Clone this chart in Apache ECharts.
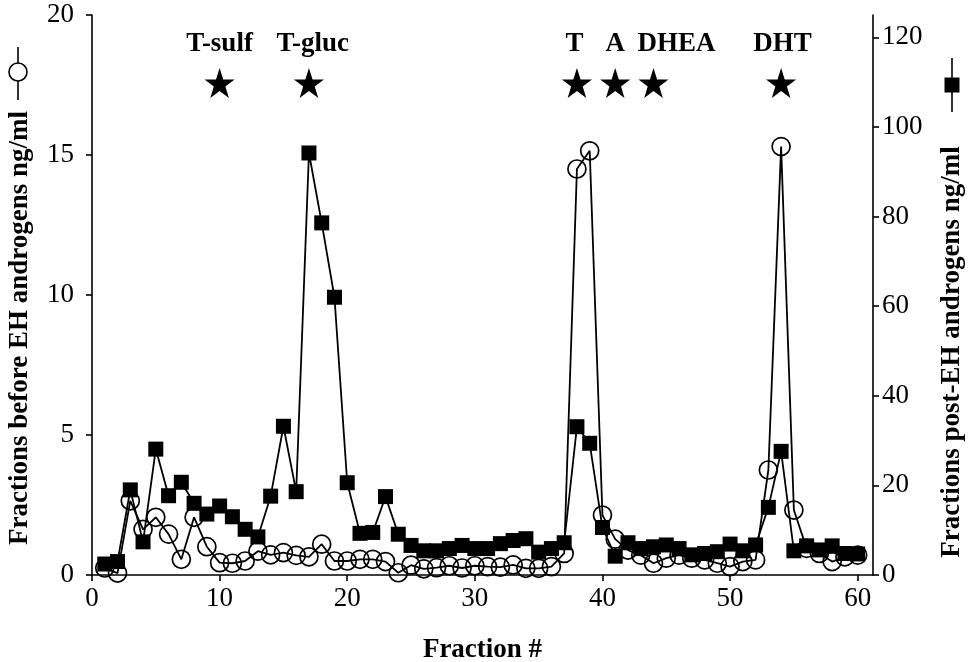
<!DOCTYPE html>
<html>
<head>
<meta charset="utf-8">
<script src="https://cdn.jsdelivr.net/npm/echarts@6/dist/echarts.min.js"></script>
<style>html,body{margin:0;padding:0;background:#fff}#c{width:969px;height:662px}</style>
</head>
<body>
<div id="c"></div>
<script>
const fractions = [1,2,3,4,5,6,7,8,9,10,11,12,13,14,15,16,17,18,19,20,21,22,23,24,25,26,27,28,29,30,31,32,33,34,35,36,37,38,39,40,41,42,43,44,45,46,47,48,49,50,51,52,53,54,55,56,57,58,59,60];
const beforeEH = [0.25,0.07,2.65,1.63,2.06,1.46,0.56,2.06,1.01,0.44,0.42,0.5,0.85,0.72,0.8,0.7,0.65,1.1,0.5,0.5,0.56,0.56,0.48,0.08,0.35,0.22,0.26,0.33,0.25,0.33,0.3,0.28,0.36,0.24,0.24,0.3,0.77,14.5,15.15,2.14,1.28,0.89,0.71,0.42,0.6,0.71,0.6,0.54,0.42,0.3,0.48,0.54,3.75,15.3,2.32,0.95,0.77,0.48,0.65,0.71];
const postEH = [2.45,3.0,19.0,7.4,28.1,17.7,20.7,16.0,13.6,15.4,13.0,10.2,8.5,17.6,33.2,18.6,94.2,78.6,62.0,20.6,9.3,9.5,17.5,9.1,6.6,5.4,5.4,5.9,6.6,5.9,5.9,7.0,7.7,8.1,5.1,5.9,7.2,33.1,29.4,10.6,4.2,7.2,5.9,6.3,6.7,5.9,4.5,4.8,5.2,6.9,5.4,6.7,15.1,27.6,5.4,6.5,5.6,6.5,4.8,4.7];
const xTicks = [0,10,20,30,40,50,60];
const leftTicks = [0,5,10,15,20];
const rightTicks = [0,20,40,60,80,100,120];
const markerNames = ['T-sulf','T-gluc','T','A','DHEA','DHT'];
const markerStarX = [10,17,38,41,44,54];
const markerLabelX = [10,17.3,37.8,41,45.8,54.1];
const starLevel = 17.57;
const labelLevel = 18.96;

const FONT = '"Liberation Serif", "Times New Roman", serif';
const STAR = 'path://M50,0 L61.8,35.1 L98.9,35.1 L68.9,56.9 L80.3,91.9 L50,70.2 L19.7,91.9 L31.1,56.9 L1.1,35.1 L38.2,35.1 Z';

const chart = echarts.init(document.getElementById('c'));
chart.setOption({
  backgroundColor: '#fff',
  animation: false,
  grid: {left: 92, right: 96, top: 15, bottom: 87, containLabel: false, outerBoundsMode: 'none'},
  xAxis: {
    type: 'value', min: 0, max: 61.2,
    name: 'Fraction #', nameLocation: 'middle', nameGap: 62,
    nameTextStyle: {fontFamily: FONT, fontWeight: 'bold', fontSize: 27, color: '#000'},
    axisLine: {lineStyle: {color: '#000', width: 1.6}},
    axisTick: {show: true, length: 6, lineStyle: {color: '#000', width: 1.6}, customValues: xTicks},
    axisLabel: {fontFamily: FONT, fontSize: 27, color: '#000', margin: 10, customValues: xTicks},
    splitLine: {show: false}
  },
  yAxis: [
    {
      type: 'value', min: 0, max: 20, interval: 5, position: 'left',
      axisLine: {show: true, lineStyle: {color: '#000', width: 1.6}},
      axisTick: {show: true, length: 6, lineStyle: {color: '#000', width: 1.6}, customValues: leftTicks},
      axisLabel: {fontFamily: FONT, fontSize: 27, color: '#000', margin: 18, customValues: leftTicks},
      splitLine: {show: false}
    },
    {
      type: 'value', min: 0, max: 125, position: 'right',
      axisLine: {show: true, lineStyle: {color: '#000', width: 1.6}},
      axisTick: {show: true, length: 6, lineStyle: {color: '#000', width: 1.6}, customValues: rightTicks},
      axisLabel: {fontFamily: FONT, fontSize: 27, color: '#000', margin: 9, customValues: rightTicks},
      splitLine: {show: false}
    }
  ],
  series: [
    {
      name: 'post-EH', type: 'line', yAxisIndex: 1,
      data: fractions.map((f, i) => [f, postEH[i]]),
      symbol: 'rect', symbolSize: 15, showAllSymbol: true,
      lineStyle: {color: '#000', width: 1.8},
      itemStyle: {color: '#000'},
      z: 2
    },
    {
      name: 'before EH', type: 'line', yAxisIndex: 0,
      data: fractions.map((f, i) => [f, beforeEH[i]]),
      symbol: 'circle', symbolSize: 18, showAllSymbol: true,
      lineStyle: {color: '#000', width: 1.8},
      itemStyle: {color: 'rgba(255,255,255,0)', borderColor: '#000', borderWidth: 1.7},
      z: 3
    },
    {
      name: 'stars', type: 'scatter', yAxisIndex: 0,
      data: markerStarX.map(x => [x, starLevel]),
      symbol: STAR, symbolSize: 30,
      itemStyle: {color: '#000', opacity: 1},
      silent: true
    },
    {
      name: 'labels', type: 'scatter', yAxisIndex: 0,
      data: markerLabelX.map((x, i) => ({value: [x, labelLevel], name: markerNames[i]})),
      symbolSize: 0,
      itemStyle: {opacity: 1},
      label: {show: true, position: 'inside', formatter: p => p.name,
        fontFamily: FONT, fontWeight: 'bold', fontSize: 27, color: '#000', opacity: 1},
      silent: true
    }
  ],
  graphic: [
    {type: 'text', x: 20, y: 328, rotation: Math.PI / 2,
      style: {text: 'Fractions before EH androgens ng/ml', font: 'bold 27px ' + FONT, fill: '#000', align: 'center', verticalAlign: 'middle'}},
    {type: 'text', x: 952, y: 352, rotation: Math.PI / 2,
      style: {text: 'Fractions post-EH androgens ng/ml', font: 'bold 27px ' + FONT, fill: '#000', align: 'center', verticalAlign: 'middle'}},
    {type: 'line', shape: {x1: 18, y1: 47, x2: 18, y2: 100}, style: {stroke: '#000', lineWidth: 1.6}},
    {type: 'circle', shape: {cx: 18, cy: 72, r: 9}, style: {fill: '#fff', stroke: '#000', lineWidth: 1.6}},
    {type: 'line', shape: {x1: 952, y1: 58, x2: 952, y2: 112}, style: {stroke: '#000', lineWidth: 1.6}},
    {type: 'rect', shape: {x: 944.5, y: 77.5, width: 15, height: 15}, style: {fill: '#000'}}
  ]
});
</script>
</body>
</html>
